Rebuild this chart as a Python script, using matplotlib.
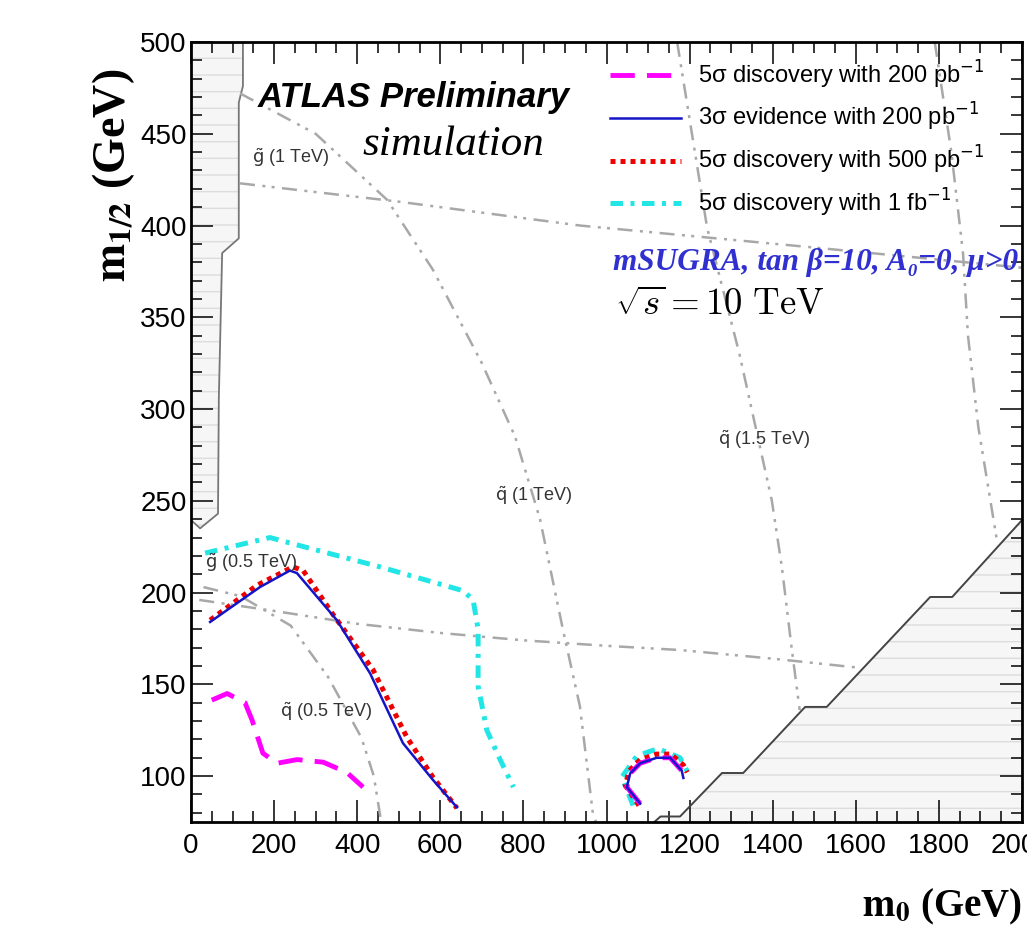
import numpy as np
import matplotlib
matplotlib.use('Agg')
import matplotlib.pyplot as plt
from matplotlib.ticker import MultipleLocator

sans = ['Liberation Sans', 'DejaVu Sans']
serif = ['Liberation Serif', 'DejaVu Serif']

# excluded regions (m0, m1/2)
left_m0 = [0, 22, 65, 67, 75, 115, 115, 125, 125, 0]
left_m12 = [239.5, 235, 243, 306, 385, 393, 467, 476, 500, 500]
right_m0 = [1115, 1130, 1177, 1278, 1329, 1478, 1530, 1779, 1832, 2000, 2000]
right_m12 = [75, 78, 78, 101.7, 101.7, 137.7, 137.7, 197.6, 197.6, 239.5, 75]

# iso-mass lines
gl1_m0 = [118, 500, 936, 1500, 2000]
gl1_m12 = [423, 413, 400, 388, 377]
gl05_m0 = [20, 200, 400, 600, 800, 1000, 1177, 1400, 1610]
gl05_m12 = [196, 190, 183, 178, 174, 171, 168.7, 164, 159]
sq05_m0 = [30, 120, 240, 330, 410, 440, 457]
sq05_m12 = [203, 198, 182, 154, 121, 100, 76]
sq1_m0 = [118, 300, 472, 582, 700, 780, 840, 895, 936, 967, 975]
sq1_m12 = [472, 450, 414, 376, 325, 285, 240, 180, 138, 80, 75]
sq15_m0 = [1170, 1242, 1320, 1398, 1422, 1446, 1465]
sq15_m12 = [500, 399, 330, 250, 214, 169, 136]
sq2_m0 = [1790, 1830, 1858, 1870, 1895, 1940]
sq2_m12 = [500, 440, 385, 340, 290, 228]

# reach contours
mag_m0 = [50, 87, 130, 147, 173, 207, 255, 318, 375, 414]
mag_m12 = [141.4, 145, 140, 130.5, 112.5, 107, 109, 107.6, 102, 94]
blue_m0 = [46, 166, 238, 255, 351, 431, 510, 582, 640]
blue_m12 = [184, 203, 212, 210.6, 185, 156, 118, 98, 83]
red_m0 = [46, 159, 245, 270, 342, 438, 520, 582, 640]
red_m12 = [185, 204, 214, 212, 188, 158, 121, 99.5, 82.6]
cyan_m0 = [34, 190, 255, 455, 655, 679, 691, 691, 712, 744, 776]
cyan_m12 = [221.5, 230, 226, 214, 201, 196, 180, 149, 125, 109, 94]

# small islands near m0 ~ 1100
arc_m0 = [1081, 1049, 1057, 1081, 1121, 1153, 1181, 1185]
arc_m12 = [85, 94, 101.5, 107, 110, 110, 103, 99]
arcc_m0 = [1064, 1037, 1073, 1124, 1177, 1196]
arcc_m12 = [84, 99.5, 111, 115, 110, 102]
arcr_m0 = [1078, 1045, 1055, 1081, 1121, 1155, 1185, 1194]
arcr_m12 = [84, 95, 103, 109, 112, 112, 106, 102]

labels = ['5\u03c3 discovery with 200 pb$^{-1}$',
          '3\u03c3 evidence with 200 pb$^{-1}$',
          '5\u03c3 discovery with 500 pb$^{-1}$',
          '5\u03c3 discovery with 1 fb$^{-1}$']

fig = plt.figure(figsize=(10.27, 9.42), dpi=100)
ax = fig.add_axes([191/1027, 1-822/942, 831/1027, 780/942])

# excluded regions
ax.fill(left_m0, left_m12, facecolor='#f6f6f6', hatch='-', edgecolor='#dddddd', lw=0, zorder=1)
ax.plot(left_m0[:-1], left_m12[:-1], color='#777777', lw=1.3, zorder=2)
ax.fill(right_m0, right_m12, facecolor='#f6f6f6', hatch='-', edgecolor='#dddddd', lw=0, zorder=1)
ax.plot(right_m0[:-1], right_m12[:-1], color='#444444', lw=1.4, zorder=2)

gstyle = dict(color='#a8a8a8', lw=1.8, ls=(0, (6, 3, 1.2, 2.5, 1.2, 3)), zorder=2)
for xs, ys in [(gl1_m0, gl1_m12), (gl05_m0, gl05_m12), (sq05_m0, sq05_m12),
               (sq1_m0, sq1_m12), (sq15_m0, sq15_m12), (sq2_m0, sq2_m12)]:
    ax.plot(xs, ys, **gstyle)

mag = dict(color='#ff00ff', lw=3.5, ls=(0, (5, 2.5)))
blu = dict(color='#1515c8', lw=1.8, ls='-')
red = dict(color='#ee0000', lw=3.6, ls=(0, (1, 1)))
cya = dict(color='#22e6e6', lw=3.6, ls=(0, (2.5, 1.5, 0.8, 1.5)))

ax.plot(mag_m0, mag_m12, label=labels[0], zorder=5, **mag)
ax.plot(blue_m0, blue_m12, label=labels[1], zorder=6, **blu)
ax.plot(red_m0, red_m12, label=labels[2], zorder=4, **red)
ax.plot(cyan_m0, cyan_m12, label=labels[3], zorder=3, **cya)
ax.plot(arcc_m0, arcc_m12, zorder=3, **cya)
ax.plot(arcr_m0, arcr_m12, zorder=4, **red)
ax.plot(arc_m0, arc_m12, zorder=6, **blu)
ax.plot(arc_m0, arc_m12, zorder=5, **mag)

leg = ax.legend(loc='upper left', bbox_to_anchor=(0.504, 0.979), frameon=False,
                prop={'family': sans, 'size': 17}, handlelength=3.0,
                handletextpad=0.72, labelspacing=0.45, borderpad=0, borderaxespad=0)

# texts
ax.text(161, 470, 'ATLAS Preliminary', family=sans, weight='bold', style='italic',
        fontsize=25, va='center', ha='left', zorder=7)
ax.text(412, 444, 'simulation', family=serif, style='italic', fontsize=31,
        va='center', ha='left', zorder=7)
ax.text(1016, 380, 'mSUGRA, tan \u03b2=10, A\u2080=0, \u03bc>0', family=serif,
        weight='bold', style='italic', fontsize=22.5, color='#3030d0', va='center', ha='left', zorder=7)
ax.text(1020, 357, r'$\sqrt{s} = 10\ \mathrm{TeV}$', math_fontfamily='cm', fontsize=26.5,
        va='center', ha='left', zorder=7)

small = [(r'$\tilde{\rm g}$ (1 TeV)', 147, 437),
         (r'$\tilde{\rm q}$ (1 TeV)', 732, 253),
         (r'$\tilde{\rm q}$ (1.5 TeV)', 1268, 283),
         (r'$\tilde{\rm g}$ (0.5 TeV)', 34, 216),
         (r'$\tilde{\rm q}$ (0.5 TeV)', 214, 135)]
for s, x, y in small:
    ax.text(x, y, s, family=sans, fontsize=13, color='#333333', va='center', ha='left', zorder=7)

ax.set_xlim(0, 2000)
ax.set_ylim(75, 500)
ax.xaxis.set_major_locator(MultipleLocator(200))
ax.xaxis.set_minor_locator(MultipleLocator(50))
ax.yaxis.set_major_locator(MultipleLocator(50))
ax.yaxis.set_minor_locator(MultipleLocator(10))
ax.tick_params(which='both', direction='in', top=True, right=True, width=1.1)
ax.tick_params(which='major', length=16)
ax.tick_params(which='minor', length=8)
ax.tick_params(axis='x', pad=8)
ax.tick_params(axis='y', pad=3)
for lab in ax.get_xticklabels() + ax.get_yticklabels():
    lab.set_family(sans)
    lab.set_fontsize(20)
for sp in ax.spines.values():
    sp.set_linewidth(2)

fig.text(114/1027, 1-175/942, r'$\mathbf{m_{1/2}}$ (GeV)', family=serif, weight='bold',
         math_fontfamily='stix', fontsize=33, rotation=90, ha='center', va='center')
fig.text(1022/1027, 1-907/942, r'$\mathbf{m_{0}}$ (GeV)', family=serif, weight='bold',
         math_fontfamily='stix', fontsize=28, ha='right', va='center')

fig.savefig('out.png', dpi=100)
